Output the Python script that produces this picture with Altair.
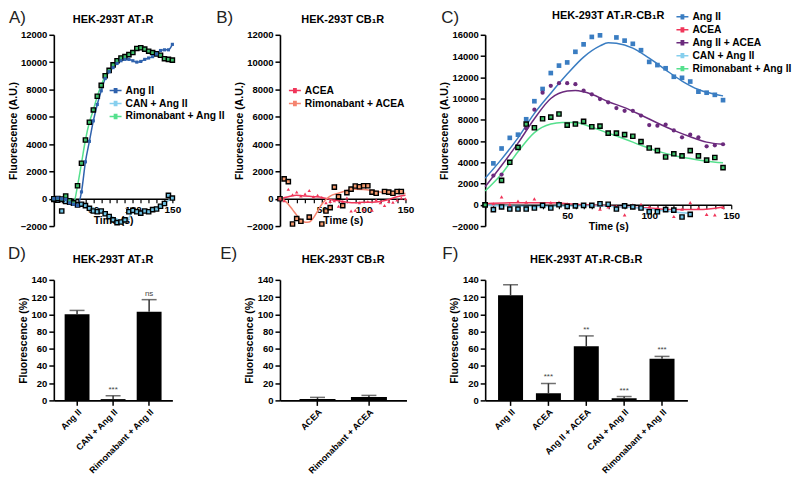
import altair as alt
import pandas as pd

FONT = "Liberation Sans"

# ---------------- data ----------------
time_ab = list(range(0, 155, 5))   # 0 ... 150 s
time_c = list(range(0, 150, 5))    # 0 ... 145 s

# Panel A  (HEK-293T AT1R)
series_a = ["Ang II", "CAN + Ang II", "Rimonabant + Ang II"]
a_ang_ii = [0, 50, 0, -50, -300, -400, -500, 500, 2700, 4200, 5700, 6900, 7900, 8800, 9300, 9600,
            9900, 10100, 10200, 10200, 10100, 10000, 10050, 10200, 10300, 10400, 10600, 10850, 10900,
            10900, 11300]
a_can = [-50, -100, -900, -200, -250, -300, -450, -400, -500, -700, -900, -950, -900, -1100, -1300,
         -1550, -1750, -1700, -1550, -950, -850, -950, -1050, -900, -950, -800, -750, -550, -350, 250, 50]
a_rimo = [0, 20, -30, 200, -150, -300, 950, 2600, 4300, 5600, 6500, 7500, 8300, 9000, 9400, 9800,
          10100, 10300, 10400, 10550, 10700, 11000, 11050, 10950, 10800, 10700, 10600, 10500, 10250,
          10200, 10150]
a_can_fit_t = [0, 20, 40, 60, 80, 90, 100, 120, 135, 150]
a_can_fit = [0, -250, -500, -900, -1500, -1750, -1000, -950, -550, 100]

# Panel B  (HEK-293T CB1R)
series_b = ["ACEA", "Rimonabant + ACEA"]
b_acea = [0, -150, 700, 300, 500, 200, 350, 600, 150, 250, 100, -300, -200, -150, -550, -200, 50,
          -900, -850, -300, -800, -200, -850, -100, -300, -500, -200, -250, -100, 50, 0]
b_rimo = [0, 1450, 1250, -1850, -1450, -1650, None, -1350, None, None, -1850, -900, -650, 850, 150,
          -500, 450, 700, 930, 880, 950, 950, 480, 400, None, 530, 480, 400, 530, 530, None]
b_acea_fit_t = [0, 10, 20, 30, 40, 50, 60, 70, 80, 90, 100, 110, 120, 130, 140, 150]
b_acea_fit = [0, 150, 250, 200, 150, 100, -50, -150, -250, -300, -250, -250, -200, -50, 150, 250]
b_rimo_fit_t = [0, 5, 10, 15, 20, 25, 30, 35, 40, 45, 50, 55, 60, 70, 80, 90, 100, 110, 120, 130, 140, 150]
b_rimo_fit = [0, -100, -400, -800, -1200, -1550, -1720, -1700, -1400, -900, -400, -50, 200, 400, 600,
              700, 680, 600, 500, 450, 400, 380]

# Panel C  (HEK-293T AT1R-CB1R)
series_c = ["Ang II", "ACEA", "Ang II + ACEA", "CAN + Ang II", "Rimonabant + Ang II"]
c_ang_ii = [0, 3900, 5300, 6300, 6600, 8050, 9750, 10900, 12400, 13100, 13400, 14400, 15100, 15800,
            15950, None, 15750, 15450, 15150, 14550, 13450, 13150, 12850, 12050, 11950, 11600, 10650,
            10550, 10350, 9850]
c_acea = [0, 100, 750, 50, 350, 250, 550, 50, 200, 250, 100, 50, -50, -100, -400, -200, -150, -950, 0,
          50, -200, -300, -500, -1100, -400, 200, -300, -900, -950, -250]
c_ang_acea = [0, 2750, 2850, 4000, 5400, 7200, 8950, 10550, 11200, 11450, 11450, 11350, 10750, 10400,
              9950, 9650, 9100, 8850, 8850, 8400, 7500, 7450, 7550, 7000, 6350, 6600, 6350, 5500, 5600, 5700]
c_can = [0, -450, -200, -400, -400, -400, -300, -50, -300, 0, -150, -100, -50, -50, 100, 50, -400, -100,
         -200, -300, -650, -650, -450, -500, -1150, -900, None, None, None, None]
c_rimo = [0, None, 2300, 4000, 5400, 7600, 7250, 8100, 8250, 8550, 7500, 7600, 7850, 7350, 7400, 6750,
          6750, 6600, 6450, 5950, 5350, 5100, 4500, 4800, 4600, 5100, 4600, 4200, 4450, 3500]
c_ang_fit_t = [0, 10, 20, 30, 40, 50, 60, 70, 75, 80, 90, 100, 110, 120, 130, 140, 145]
c_ang_fit = [2500, 4300, 6300, 8600, 10500, 12300, 13900, 14950, 15250, 15200, 14750, 13800, 12700,
             11650, 10850, 10400, 10250]
c_acea_fit_t = [0, 20, 40, 60, 80, 100, 115, 130, 145]
c_acea_fit = [100, 200, 200, 0, -150, -300, -450, -450, -200]
c_ang_acea_fit_t = [0, 10, 20, 30, 40, 50, 55, 65, 75, 85, 95, 105, 115, 125, 135, 145]
c_ang_acea_fit = [1700, 3700, 5800, 8100, 10000, 10700, 10750, 10400, 9700, 9150, 8450, 7700, 7000,
                  6400, 5900, 5700]
c_can_fit_t = [0, 30, 60, 90, 105, 120, 125]
c_can_fit = [-50, -150, -100, -250, -500, -750, -800]
c_rimo_fit_t = [0, 10, 20, 30, 40, 47, 55, 65, 75, 85, 95, 105, 115, 125, 135, 145]
c_rimo_fit = [1300, 2900, 5000, 6800, 7600, 7750, 7750, 7300, 6750, 6200, 5600, 5050, 4650, 4350, 4100, 3950]

# Bar panels (Fluorescence %, mean and top of error bar)
d_cats = ["Ang II", "CAN + Ang II", "Rimonabant + Ang II"]
d_vals = [100, 1.5, 103]
d_errs = [104.5, 5.4, 117]
d_sig = ["", "***", "ns"]

e_cats = ["ACEA", "Rimonabant + ACEA"]
e_vals = [1.5, 3.9]
e_errs = [3.5, 5.8]
e_sig = ["", ""]

f_cats = ["Ang II", "ACEA", "Ang II + ACEA", "CAN + Ang II", "Rimonabant + Ang II"]
f_vals = [122, 8.3, 62.8, 2.6, 48.4]
f_errs = [134.3, 19.7, 74.9, 4.5, 51.1]
f_sig = ["", "***", "**", "***", "***"]

# ---------------- helpers ----------------
LEG_SYM = ("M-1,0H1M-0.32,-0.32H0.32M-0.32,-0.16H0.32M-0.32,0H0.32"
           "M-0.32,0.16H0.32M-0.32,0.32H0.32")


def long_df(times, named):
    rows = []
    for name, vals in named:
        for t, v in zip(times, vals):
            if v is not None:
                rows.append({"t": t, "v": v, "series": name})
    return pd.DataFrame(rows)


def fit_df(named):
    rows = []
    for name, ts, vs in named:
        for t, v in zip(ts, vs):
            rows.append({"t": t, "v": v, "series": name})
    return pd.DataFrame(rows)


def label_layers(letter, lxy, title, tx, ty):
    lab = alt.Chart(pd.DataFrame({"lab": [letter]})).mark_text(
        align="left", baseline="alphabetic", fontSize=17, font=FONT, color="#222"
    ).encode(text="lab:N", x=alt.value(lxy[0]), y=alt.value(lxy[1]))
    ttl = alt.Chart(pd.DataFrame({"ttl": [title]})).mark_text(
        align="center", baseline="alphabetic", fontSize=11, font=FONT, fontWeight="bold", color="black"
    ).encode(text="ttl:N", x=alt.value(tx), y=alt.value(ty))
    return [lab, ttl]


def ts_panel(pts, fits, names, line_cols, fill_cols, groups, ymax, title, title_y,
             letter, lxy, legxy, plot_w, cell_w, height, tick_step, legend_font=10.3):
    xs = alt.Scale(domain=[0, 150], range=[0, plot_w], nice=False)
    ys = alt.Scale(domain=[-2000, ymax], nice=False, zero=False)
    zero_px = height * 2000.0 / (ymax + 2000)
    x_axis = alt.Axis(
        values=list(range(0, 151, tick_step)), tickCount=500,
        labelExpr="(datum.value % 50 == 0 && datum.value > 0) ? ('' + datum.value) : ''",
        title="Time (s)", offset=-zero_px, tickSize=4, tickWidth=1.2, domainWidth=1.6,
        labelFontSize=10, titleFontSize=10.5, labelPadding=2, titlePadding=1,
        labelFlush=False, labelOverlap=False, labelBound=False, grid=False)
    y_axis = alt.Axis(
        values=list(range(-2000, ymax + 1, 2000)), tickCount=500, format="d",
        title="Fluorescence (A.U.)",
        tickSize=5, tickWidth=1.5, domainWidth=1.6, labelFontSize=9.5, titleFontSize=10.5,
        labelPadding=2, titlePadding=2, grid=False, labelFlush=False, labelOverlap=False,
        labelBound=False)
    lines = alt.Chart(fits).mark_line(strokeWidth=1.5, interpolate="monotone").encode(
        x=alt.X("t:Q", scale=xs, axis=x_axis),
        y=alt.Y("v:Q", scale=ys, axis=y_axis),
        color=alt.Color(
            "series:N", sort=names, scale=alt.Scale(domain=names, range=line_cols),
            legend=alt.Legend(
                orient="none", legendX=legxy[0], legendY=legxy[1], title=None,
                labelFont=FONT, labelFontSize=legend_font, labelFontWeight="bold",
                labelColor="black", symbolType=LEG_SYM, symbolSize=144,
                symbolStrokeWidth=1.5, rowPadding=-1, labelOffset=3, padding=0,
                labelLimit=260)),
    )
    layers = [lines]
    for g in groups:
        kw = dict(filled=True, shape=g["shape"], size=g["size"], opacity=1)
        if "stroke" in g:
            kw["stroke"] = g["stroke"]
            kw["strokeWidth"] = g["sw"]
        layers.append(
            alt.Chart(pts).transform_filter(
                alt.FieldOneOfPredicate(field="series", oneOf=g["names"])
            ).mark_point(**kw).encode(
                x="t:Q", y="v:Q",
                fill=alt.Fill("series:N", scale=alt.Scale(domain=names, range=fill_cols), legend=None),
            )
        )
    layers += label_layers(letter, lxy, title, plot_w / 2.0, title_y)
    return alt.layer(*layers).properties(width=cell_w, height=height)


def bar_panel(cats, vals, errs, sigs, title, letter, lxy, plot_w, cell_w, p_in, p_out, height):
    df = pd.DataFrame({"cat": cats, "v": vals, "err": errs, "sig": sigs})
    xs = alt.Scale(domain=cats, range=[0, plot_w], paddingInner=p_in, paddingOuter=p_out)
    x = alt.X("cat:N", sort=cats, scale=xs, axis=alt.Axis(
        title=None, labelAngle=-45, labelAlign="right", labelBaseline="top", labelFontSize=9,
        tickSize=5, tickWidth=1.5, domainWidth=1.6, labelPadding=2, labelLimit=200,
        labelOverlap=False))
    y = alt.Y("v:Q", scale=alt.Scale(domain=[0, 140], nice=False), axis=alt.Axis(
        values=list(range(0, 141, 20)), tickCount=500, format="d", title="Fluorescence (%)",
        tickSize=5, tickWidth=1.5, domainWidth=1.6, labelFontSize=9.5, titleFontSize=10.5,
        labelPadding=2, titlePadding=3, grid=False, labelOverlap=False, labelBound=False,
        labelFlush=False))
    bars = alt.Chart(df).mark_bar(color="black").encode(x=x, y=y)
    err = alt.Chart(df).mark_rule(color="#333", strokeWidth=1.5).encode(x="cat:N", y="v:Q", y2="err:Q")
    cap = alt.Chart(df).mark_tick(color="#333", thickness=1.5, size=15).encode(x="cat:N", y="err:Q")
    sig = alt.Chart(df).mark_text(baseline="bottom", dy=-2, fontSize=8, font=FONT, color="#444").encode(
        x="cat:N", y="err:Q", text="sig:N")
    layers = [bars, err, cap, sig] + label_layers(letter, lxy, title, plot_w / 2.0, -17)
    return alt.layer(*layers).properties(width=cell_w, height=height)


# ---------------- panels ----------------
H1, H2 = 192, 121
COL1, COL2, COL3 = 148, 127, 247

pts_a = long_df(time_ab, [("Ang II", a_ang_ii), ("CAN + Ang II", a_can), ("Rimonabant + Ang II", a_rimo)])
fits_a = fit_df([("Ang II", time_ab, a_ang_ii), ("CAN + Ang II", a_can_fit_t, a_can_fit),
                 ("Rimonabant + Ang II", time_ab, a_rimo)])
panel_a = ts_panel(
    pts_a, fits_a, series_a, ["#2f62ad", "#86cfee", "#55e08d"], ["#2f62ad", "#6ec2e4", "#3fbf6a"],
    [dict(names=["CAN + Ang II", "Rimonabant + Ang II"], shape="square", size=18, stroke="black", sw=1.4),
     dict(names=["Ang II"], shape="square", size=10)],
    12000, "HEK-293T AT\u2081R", -12, "A)", (-45, -12), (55, 49), 119, COL1, H1, 10)

pts_b = long_df(time_ab, [("ACEA", b_acea), ("Rimonabant + ACEA", b_rimo)])
fits_b = fit_df([("ACEA", b_acea_fit_t, b_acea_fit), ("Rimonabant + ACEA", b_rimo_fit_t, b_rimo_fit)])
panel_b = ts_panel(
    pts_b, fits_b, series_b, ["#f0365a", "#f5846f"], ["#f0365a", "#f59a6e"],
    [dict(names=["Rimonabant + ACEA"], shape="square", size=18, stroke="black", sw=1.4),
     dict(names=["ACEA"], shape="triangle-up", size=12)],
    12000, "HEK-293T CB\u2081R", -12, "B)", (-64, -12), (8, 49), 126, COL2, H1, 10)

pts_c = long_df(time_c, [("Ang II", c_ang_ii), ("ACEA", c_acea), ("Ang II + ACEA", c_ang_acea),
                         ("CAN + Ang II", c_can), ("Rimonabant + Ang II", c_rimo)])
fits_c = fit_df([("Ang II", c_ang_fit_t, c_ang_fit), ("ACEA", c_acea_fit_t, c_acea_fit),
                 ("Ang II + ACEA", c_ang_acea_fit_t, c_ang_acea_fit),
                 ("CAN + Ang II", c_can_fit_t, c_can_fit),
                 ("Rimonabant + Ang II", c_rimo_fit_t, c_rimo_fit)])
panel_c = ts_panel(
    pts_c, fits_c, series_c,
    ["#3a7dc2", "#f0365a", "#6b2a7d", "#86cfee", "#55e08d"],
    ["#3a7dc2", "#f0365a", "#6b2a7d", "#6ec2e4", "#3fbf6a"],
    [dict(names=["Ang II"], shape="square", size=22),
     dict(names=["ACEA"], shape="triangle-up", size=14),
     dict(names=["Ang II + ACEA"], shape="circle", size=18),
     dict(names=["CAN + Ang II", "Rimonabant + Ang II"], shape="square", size=18, stroke="black", sw=1.4)],
    16000, "HEK-293T AT\u2081R-CB\u2081R", -16, "C)", (-44, -12), (191, -25), 247, COL3, H1, 5)

panel_d = bar_panel(d_cats, d_vals, d_errs, d_sig, "HEK-293T AT\u2081R", "D)", (-46, -21),
                    119, COL1, 0.31, 0.3, H2)
panel_e = bar_panel(e_cats, e_vals, e_errs, e_sig, "HEK-293T CB\u2081R", "E)", (-60, -21),
                    127, COL2, 0.3, 0.38, H2)
panel_f = bar_panel(f_cats, f_vals, f_errs, f_sig, "HEK-293T AT\u2081R-CB\u2081R", "F)", (-43, -21),
                    203, COL3, 0.34, 0.34, H2)

chart = alt.concat(
    panel_a, panel_b, panel_c, panel_d, panel_e, panel_f, columns=3,
).properties(
    spacing={"row": 54, "column": 79}, bounds="flush",
    padding={"left": 0, "top": 0, "right": 0, "bottom": 0},
).resolve_scale(
    x="independent", y="independent", color="independent", fill="independent"
).resolve_legend(color="independent", fill="independent").configure_view(stroke=None).configure_axis(
    domainColor="black", tickColor="black", labelColor="black", titleColor="black",
    labelFont=FONT, titleFont=FONT, labelFontWeight="bold", titleFontWeight="bold", grid=False,
    labelOverlap=False,
)

chart.save("out.html", embed_options={"renderer": "svg", "actions": False})
